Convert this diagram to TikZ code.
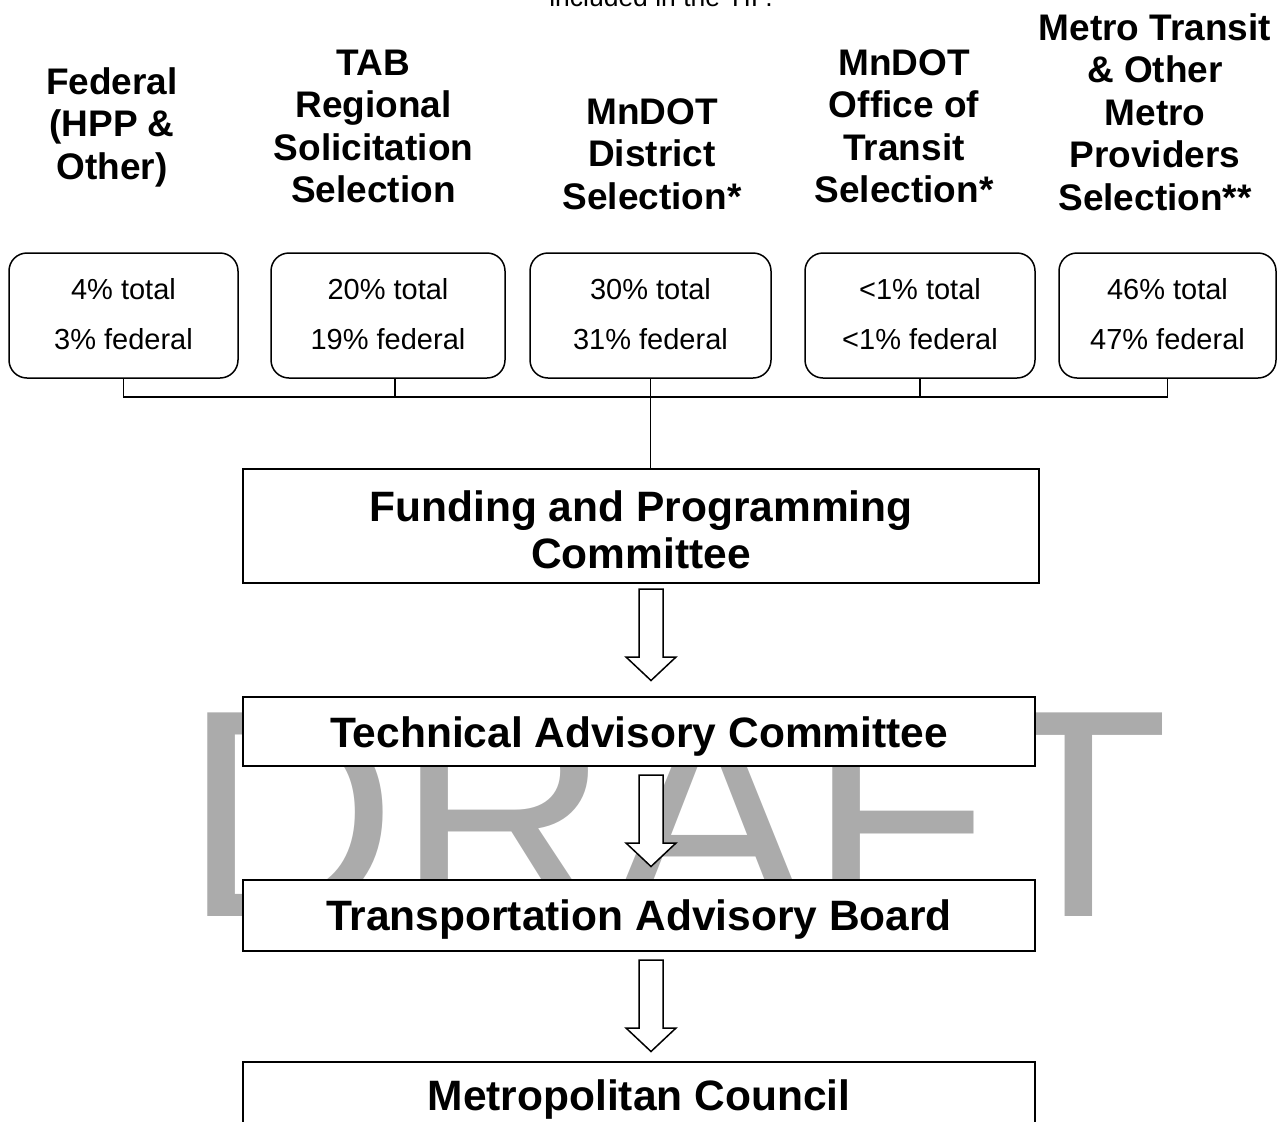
\documentclass[tikz,border=0pt]{standalone}
\usepackage{fontspec}
\setmainfont{Liberation Sans}
\definecolor{wmgray}{HTML}{ABABAB}
\newcommand\stk[1]{\begin{tabular}[t]{@{}c@{}}#1\end{tabular}}
\begin{document}
\begin{tikzpicture}[x=1pt,y=-1pt,
  hdr/.style={font=\bfseries\fontsize{37}{42.5}\selectfont, anchor=base, inner sep=0pt},
  note/.style={font=\fontsize{26.5}{30}\selectfont, anchor=base, inner sep=0pt},
  wm/.style={font=\fontsize{296}{300}\selectfont, text=wmgray, anchor=base west, inner sep=0pt},
  rbox/.style={draw, line width=1.5pt, rounded corners=18pt, fill=white,
    font=\fontsize{29}{50}\selectfont, text height=21pt, text depth=54pt},
  bigbox/.style={draw, line width=2.2pt, fill=white, font=\bfseries\fontsize{42.5}{47}\selectfont},
  link/.style={line width=1.4pt},
  blockarrow/.style={draw, line width=1.5pt, fill=white, line join=miter}
]
\useasboundingbox (0,0) rectangle (1280,1122);

% watermark
\node[wm] (draft) at (183,916) {DRAFT};

% cut-off note at the top
\node[note] (tip) at (661,6.5) {included in the TIP.};

% column headers
\node[hdr] (h1) at (112,94)   {\stk{Federal\\(HPP \&\\Other)}};
\node[hdr] (h2) at (373.5,75) {\stk{TAB\\Regional\\Solicitation\\Selection}};
\node[hdr] (h3) at (652,124)  {\stk{MnDOT\\District\\Selection*}};
\node[hdr] (h4) at (904,75)   {\stk{MnDOT\\Office of\\Transit\\Selection*}};
\node[hdr] (h5) at (1155,40)  {\stk{Metro Transit\\\& Other\\Metro\\Providers\\Selection**}};

% percentage boxes
\node[rbox, minimum width=229, minimum height=125] (b1) at (123.5,315.5) {\stk{4\% total\\3\% federal}};
\node[rbox, minimum width=234, minimum height=125] (b2) at (388,315.5)   {\stk{20\% total\\19\% federal}};
\node[rbox, minimum width=241, minimum height=125] (b3) at (650.5,315.5) {\stk{30\% total\\31\% federal}};
\node[rbox, minimum width=230, minimum height=125] (b4) at (920,315.5)   {\stk{<1\% total\\<1\% federal}};
\node[rbox, minimum width=217, minimum height=125] (b5) at (1167.5,315.5){\stk{46\% total\\47\% federal}};

% committee boxes
\node[bigbox, minimum width=796, minimum height=114, text height=30pt, text depth=40pt] (fpc) at (641,526)
  {\stk{Funding and Programming\\Committee}};
\node[bigbox, minimum width=792, minimum height=69, text height=31pt, text depth=0pt] (tac) at (639,731.5)
  {Technical Advisory Committee};
\node[bigbox, minimum width=792, minimum height=71, text height=30.4pt, text depth=0pt] (tab) at (639,915.5)
  {Transportation Advisory Board};
\node[bigbox, minimum width=792, minimum height=65, text height=31pt, text depth=0pt] (mc) at (639,1094.5)
  {Metropolitan Council};

% connectors from the percentage boxes
\coordinate (bus) at (0,397);
\draw[link] (b1.south) -- (b1.south |- bus) -- (b5.south |- bus) -- (b5.south);
\draw[link] ([xshift=7pt]b2.south) -- ++(0,19.5);
\draw[link] (b4.south) -- (b4.south |- bus);
\draw[link] (b3.south) -- (b3.south |- fpc.north);

% block arrows
\coordinate (a1) at (651,589);
\coordinate (a2) at (651,775);
\coordinate (a3) at (651,960);
\foreach \a in {a1,a2,a3}{
  \draw[blockarrow] (\a) ++(-12,0) -- ++(0,68) -- ++(-13,0) -- ++(25,23.5) -- ++(25,-23.5)
    -- ++(-13,0) -- ++(0,-68) -- cycle;
}
\end{tikzpicture}
\end{document}
